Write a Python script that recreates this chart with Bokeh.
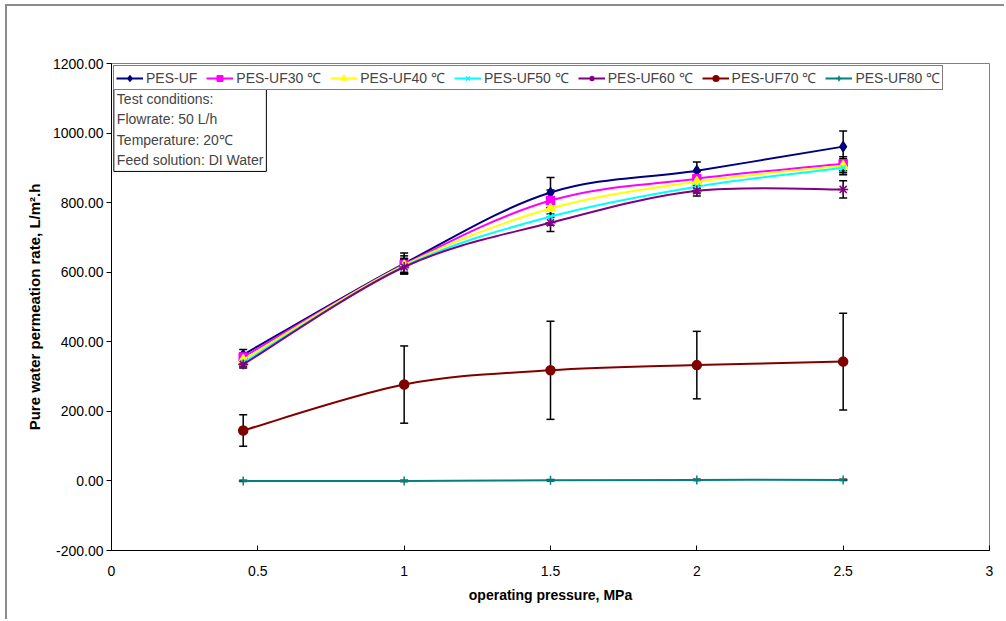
from bokeh.plotting import figure
from bokeh.models import (Range1d, FixedTicker, NumeralTickFormatter, CustomJSTickFormatter,
                          Legend, LegendItem, Whisker, TeeHead, ColumnDataSource, Label)
from bokeh.embed import file_html
from bokeh.resources import INLINE

# ---------------- data ----------------
pressure = [0.45, 1.0, 1.5, 2.0, 2.5]

names = ["PES-UF", "PES-UF30 \u2103", "PES-UF40 \u2103", "PES-UF50 \u2103",
         "PES-UF60 \u2103", "PES-UF70 \u2103", "PES-UF80 \u2103"]

pes_uf   = [363, 625, 829, 892, 961]
pes_uf30 = [356, 622, 806, 869, 912]
pes_uf40 = [348, 620, 783, 860, 906]
pes_uf50 = [340, 617, 760, 846, 900]
pes_uf60 = [335, 615, 742, 834, 838]
pes_uf70 = [145, 277, 318, 333, 343]
pes_uf80 = [0, 0, 2, 3, 3]

err_uf   = [15, 30, 43, 25, 45]
err_uf30 = [12, 25, 30, 20, 20]
err_uf40 = [10, 20, 25, 20, 20]
err_uf50 = [10, 20, 25, 18, 20]
err_uf60 = [10, 20, 25, 15, 25]
err_uf70 = [45, 111, 141, 97, 139]
err_uf80 = [2, 2, 2, 2, 2]

x_ticks = [0, 0.5, 1, 1.5, 2, 2.5, 3]
y_ticks = [-200, 0, 200, 400, 600, 800, 1000, 1200]

x_title = "operating pressure, MPa"
y_title = "Pure water permeation rate, L/m\u00b2.h"

series = [pes_uf, pes_uf30, pes_uf40, pes_uf50, pes_uf60, pes_uf70, pes_uf80]
errors = [err_uf, err_uf30, err_uf40, err_uf50, err_uf60, err_uf70, err_uf80]
colors = ["#000080", "#FF00FF", "#FFFF00", "#00FFFF", "#800080", "#800000", "#008080"]
markers = ["diamond", "square", "triangle", "x", "asterisk", "circle", "cross"]
msizes = [10, 8, 9, 8, 10, 9, 9]

FONT = "Liberation Sans"

p = figure(width=999, height=615, output_backend="svg", toolbar_location=None,
           x_range=Range1d(0, 3), y_range=Range1d(-200, 1200),
           min_border_left=104, min_border_top=57, min_border_right=17, min_border_bottom=71)
p.margin = (4, 0, 0, 5)
p.styles = {"border-top": "2px solid #8c8c8c", "border-left": "2px solid #8c8c8c"}
p.xgrid.visible = False
p.ygrid.visible = False
p.outline_line_color = "#808080"
p.outline_line_width = 1

p.xaxis.ticker = FixedTicker(ticks=x_ticks)
p.xaxis.formatter = CustomJSTickFormatter(code="return String(tick);")
p.yaxis.ticker = FixedTicker(ticks=y_ticks)
p.yaxis.formatter = NumeralTickFormatter(format="0.00")
p.xaxis.minor_tick_line_color = None
p.yaxis.minor_tick_line_color = None
p.xaxis.major_tick_in = 5
p.xaxis.major_tick_out = 0
p.yaxis.major_tick_in = 0
p.yaxis.major_tick_out = 5
for ax in (p.xaxis, p.yaxis):
    ax.axis_line_color = "black"
    ax.major_tick_line_color = "black"
    ax.major_label_text_font = FONT
    ax.major_label_text_font_size = "14px"
    ax.major_label_text_color = "black"
    ax.axis_label_text_font = FONT
    ax.axis_label_text_font_size = "14px"
    ax.axis_label_text_font_style = "bold"
    ax.axis_label_text_color = "black"
p.xaxis.major_label_standoff = 15
p.yaxis.major_label_standoff = 3
p.xaxis.axis_label = x_title
p.xaxis.axis_label_standoff = 8
p.yaxis.axis_label = y_title
p.yaxis.axis_label_text_font_size = "15px"
p.yaxis.axis_label_standoff = 7

items = []
for name, ys, err, col, mk, ms in zip(names, series, errors, colors, markers, msizes):
    n = len(pressure)
    # smoothed curve drawn as cubic Bezier segments through the data points
    x0, y0, x1, y1, cx0, cy0, cx1, cy1 = [], [], [], [], [], [], [], []
    for i in range(n - 1):
        pa = (pressure[max(i - 1, 0)], ys[max(i - 1, 0)])
        pb = (pressure[i], ys[i])
        pc = (pressure[i + 1], ys[i + 1])
        pd = (pressure[min(i + 2, n - 1)], ys[min(i + 2, n - 1)])
        x0.append(pb[0]); y0.append(pb[1]); x1.append(pc[0]); y1.append(pc[1])
        cx0.append(pb[0] + (pc[0] - pa[0]) / 6); cy0.append(pb[1] + (pc[1] - pa[1]) / 6)
        cx1.append(pc[0] - (pd[0] - pb[0]) / 6); cy1.append(pc[1] - (pd[1] - pb[1]) / 6)
    bz = p.bezier(x0=x0, y0=y0, x1=x1, y1=y1, cx0=cx0, cy0=cy0, cx1=cx1, cy1=cy1,
                  line_color=col, line_width=2)
    src = ColumnDataSource(dict(x=pressure, y=ys,
                                upper=[a + b for a, b in zip(ys, err)],
                                lower=[a - b for a, b in zip(ys, err)]))
    w = Whisker(source=src, base="x", upper="upper", lower="lower",
                line_color="black", line_width=1.5,
                upper_head=TeeHead(size=8, line_color="black", line_width=1.5),
                lower_head=TeeHead(size=8, line_color="black", line_width=1.5))
    p.add_layout(w)
    sc = p.scatter("x", "y", source=src, marker=mk, size=ms, fill_color=col,
                   line_color=col, line_width=1.5)
    items.append(LegendItem(label=name, renderers=[bz, sc]))

legend = Legend(items=items, orientation="horizontal", location="top_left",
                margin=2, padding=2, spacing=9, glyph_width=27, glyph_height=14,
                label_standoff=3, label_text_font=FONT, label_text_font_size="14px",
                label_height=14, border_line_color="black", border_line_width=1,
                background_fill_color="white", background_fill_alpha=1)
p.add_layout(legend)

box = Label(x=0.008, y=1131, x_units="data", y_units="data", anchor="top_left",
            text="Test conditions:\nFlowrate: 50 L/h\nTemperature: 20\u2103\nFeed solution: DI Water",
            text_font=FONT, text_font_size="14px", text_line_height=1.29,
            border_line_color="black", border_line_width=1,
            background_fill_color="white", padding=3)
p.add_layout(box)

open("out.html", "w").write(file_html(p, INLINE))
